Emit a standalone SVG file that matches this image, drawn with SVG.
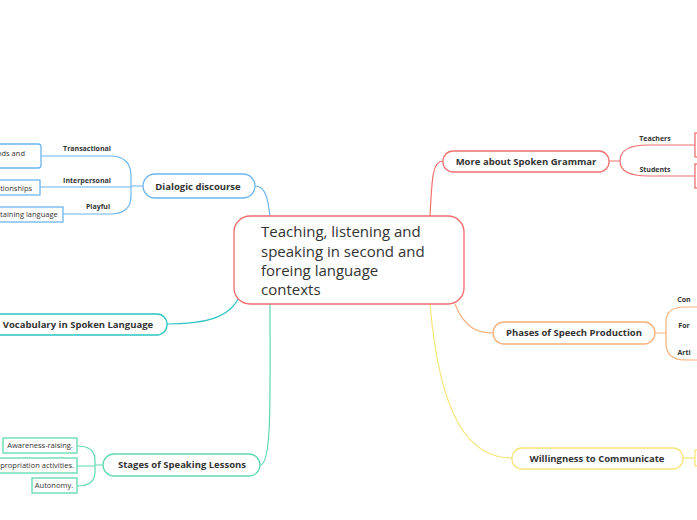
<svg xmlns="http://www.w3.org/2000/svg" width="697" height="520" viewBox="0 0 697 520">
<style>
text{font-family:"Open Sans","Noto Sans",sans-serif;fill:#333}
.m{font-size:9.5px;font-weight:bold;text-anchor:middle}
.l{font-size:7px;font-weight:bold;text-anchor:middle}
.s{font-size:7.5px}
.n{fill:#fff;stroke-width:1.3}
.c{font-size:15px}
path{fill:none;stroke-width:1.2}
</style>
<rect width="697" height="520" fill="#fff"/>
<g id="connectors">
<path d="M270 216 C268 200 266 186 255 186" stroke="#6db6f0"/>
<path d="M143 186 H131 M41 156 H110 Q131 156 131 176 V196 Q131 214 110 214 H63 M40 187 H131" stroke="#6db6f0"/>
<path d="M240 295 C230 320 200 324 167 324" stroke="#2ec4c4"/>
<path d="M270 304 C270 400 272 465 260 465" stroke="#5fd9b0"/>
<path d="M103 465 H95 M77 446 Q95 446 95 460 V472 Q95 486 77 486 M77 466 H95" stroke="#5fd9b0"/>
<path d="M430 216 C432 180 432 161 443 161" stroke="#f07070"/>
<path d="M609 161 H620 M695 145 H648 Q620 145 620 161 Q620 176 648 176 H695" stroke="#f07070"/>
<path d="M455 304 C465 330 480 333 493 333" stroke="#f8b07a"/>
<path d="M655 333 H666 M697 307 H685 Q666 307 666 322 V343 Q666 360 685 360 H697" stroke="#f8b07a"/>
<path d="M430 304 C440 420 470 458 512 458" stroke="#f5e57a"/>
<path d="M683 458 H697" stroke="#f5e57a"/>
</g>
<g id="central"><rect class="n" x="234" y="216" width="230" height="88" rx="16" stroke="#f26b6b" stroke-width="2"/>
<text class="c" x="261" y="237">Teaching, listening and</text>
<text class="c" x="261" y="257">speaking in second and</text>
<text class="c" x="261" y="276">foreing language</text>
<text class="c" x="261" y="295">contexts</text></g>
<g id="dialogic"><rect class="n" x="143" y="174" width="112" height="24" rx="12" stroke="#6db6f0"/><text class="m" x="198" y="190">Dialogic discourse</text></g>
<g id="d1"><rect class="n" x="-5" y="144" width="46" height="24" rx="3" stroke="#6db6f0"/><text class="s" x="-3" y="156">ods and</text><text class="l" x="87" y="151">Transactional</text></g>
<g id="d2"><rect class="n" x="-5" y="180" width="45" height="15" stroke="#6db6f0"/><text class="s" x="-4" y="191">ationships</text><text class="l" x="87" y="183">Interpersonal</text></g>
<g id="d3"><rect class="n" x="-5" y="207" width="68" height="15" stroke="#6db6f0"/><text class="s" x="-3" y="217">rtaining language</text><text class="l" x="98" y="209">Playful</text></g>
<g id="vocab"><rect class="n" x="-10" y="314" width="177" height="21" rx="10" stroke="#2ec4c4"/><text class="m" x="78" y="328">Vocabulary in Spoken Language</text></g>
<g id="stages"><rect class="n" x="103" y="454" width="157" height="22" rx="11" stroke="#5fd9b0"/><text class="m" x="182" y="468">Stages of Speaking Lessons</text></g>
<g id="s1"><rect class="n" x="3" y="438" width="74" height="15" stroke="#5fd9b0"/><text class="s" x="40" y="448" text-anchor="middle">Awareness-raising.</text></g>
<g id="s2"><rect class="n" x="-5" y="458" width="82" height="15" stroke="#5fd9b0"/><text class="s" x="74" y="468" text-anchor="end">propriation activities.</text></g>
<g id="s3"><rect class="n" x="32" y="478" width="45" height="15" stroke="#5fd9b0"/><text class="s" x="54" y="488" text-anchor="middle">Autonomy.</text></g>
<g id="grammar"><rect class="n" x="443" y="151" width="166" height="21" rx="10" stroke="#f07070"/><text class="m" x="526" y="165">More about Spoken Grammar</text></g>
<g id="g1"><rect class="n" x="695" y="133" width="10" height="24" stroke="#f07070"/><text class="l" x="655" y="141">Teachers</text></g>
<g id="g2"><rect class="n" x="695" y="164" width="10" height="24" stroke="#f07070"/><text class="l" x="655" y="172">Students</text></g>
<g id="phases"><rect class="n" x="493" y="322" width="162" height="22" rx="11" stroke="#f8b07a"/><text class="m" x="574" y="336">Phases of Speech Production</text></g>
<g id="p1"><text class="l" x="684" y="302" text-anchor="start">Con</text></g>
<g id="p2"><text class="l" x="684" y="328" text-anchor="start">For</text></g>
<g id="p3"><text class="l" x="684" y="355" text-anchor="start">Arti</text></g>
<g id="will"><rect class="n" x="512" y="448" width="171" height="21" rx="10" stroke="#f5e57a"/><text class="m" x="597" y="462">Willingness to Communicate</text></g>
<g id="w1"><rect class="n" x="695" y="450" width="10" height="16" stroke="#f5e57a"/></g>
</svg>
